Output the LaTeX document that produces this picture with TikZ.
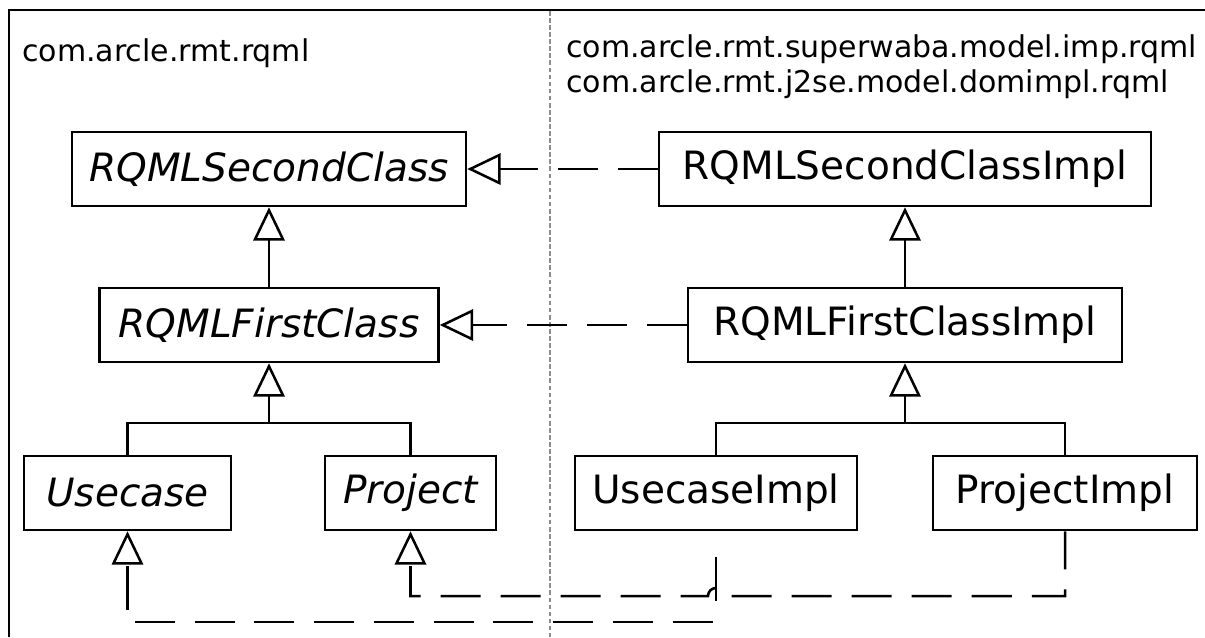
\documentclass[tikz,border=0pt]{standalone}
\usepackage{fontspec}
\setmainfont{DejaVu Sans}
\usetikzlibrary{arrows.meta,calc}
\definecolor{divgray}{RGB}{140,140,140}
\begin{document}
\begin{tikzpicture}[x=0.75pt,y=-0.75pt,
  cls/.style={draw, line width=1.9pt, inner sep=0pt, minimum height=55.5pt,
    font=\fontsize{29.25}{35}\selectfont},
  abscls/.style={cls, font=\fontsize{29.25}{35}\selectfont\itshape},
  pkg/.style={font=\fontsize{22.5}{27}\selectfont, inner sep=0pt, anchor=base west},
  genarrow/.style={line width=1.9pt, -{Triangle[open, length=25pt, width=23.5pt]}},
  realizes/.style={genarrow, dash pattern=on 30pt off 15pt}]
\useasboundingbox (0,0) rectangle (1205,637);
% frame and divider
\draw[line width=2pt] (9,637) -- (9,10) -- (1205,10);
\draw[line width=1.5pt, divgray, dash pattern=on 3.5pt off 1.8pt] (550,11) -- (550,637);
% package labels
\node[pkg] (pkgA) at (22,61) {com.arcle.rmt.rqml};
\node[pkg] (pkgB1) at (566,57) {com.arcle.rmt.superwaba.model.imp.rqml};
\node[pkg] (pkgB2) at (566,92) {com.arcle.rmt.j2se.model.domimpl.rqml};
% classes
\node[abscls, minimum width=295.5pt] (sec) at (269,169) {RQMLSecondClass};
\node[abscls, minimum width=254.25pt] (fir) at (269,325) {RQMLFirstClass};
\node[abscls, minimum width=155.25pt] (use) at (127.5,493) {Usecase};
\node[abscls, minimum width=128.25pt] (pro) at (410.5,493) {Project};
\node[cls, minimum width=369pt] (secI) at (905,169) {RQMLSecondClassImpl};
\node[cls, minimum width=325.5pt] (firI) at (905,325) {RQMLFirstClassImpl};
\node[cls, minimum width=211.5pt] (useI) at (716,493) {UsecaseImpl};
\node[cls, minimum width=198pt] (proI) at (1065,493) {ProjectImpl};
% generalizations
\draw[genarrow] (fir.north) -- (sec.south);
\draw[genarrow] (firI.north) -- (secI.south);
\coordinate (jl) at (269,423);
\coordinate (jr) at (905,423);
\draw[line width=1.9pt] (use.north) |- (jl) -| (pro.north);
\draw[genarrow] (jl) -- (fir.south);
\draw[line width=1.9pt] (useI.north) |- (jr) -| (proI.north);
\draw[genarrow] (jr) -- (firI.south);
% realizations
\draw[realizes] (secI.west) -- (sec.east);
\draw[realizes] (firI.west) -- (fir.east);
\coordinate (yP) at (0,596);
\coordinate (yU) at (0,622);
\coordinate (hop) at ($(useI.south |- yP)+(8,0)$);
\draw[realizes, dash phase=1.5pt] (proI.south) -- (proI.south |- yP) -- (hop)
  arc[start angle=0, end angle=180, radius=6pt] -- (pro.south |- yP) -- (pro.south);
\draw[realizes, dash pattern=on 0pt off 19.5pt on 33pt off 18pt
  on 30pt off 14.8125pt on 30pt off 14.8125pt on 30pt off 14.8125pt
  on 30pt off 14.8125pt on 30pt off 14.8125pt on 30pt off 14.8125pt
  on 30pt off 14.8125pt on 30pt off 14.8125pt on 30pt off 14.8125pt
  on 30pt off 14.8125pt on 33pt off 75pt]
  (useI.south) -- (useI.south |- yU) -- (use.south |- yU) -- (use.south);
\end{tikzpicture}
\end{document}
